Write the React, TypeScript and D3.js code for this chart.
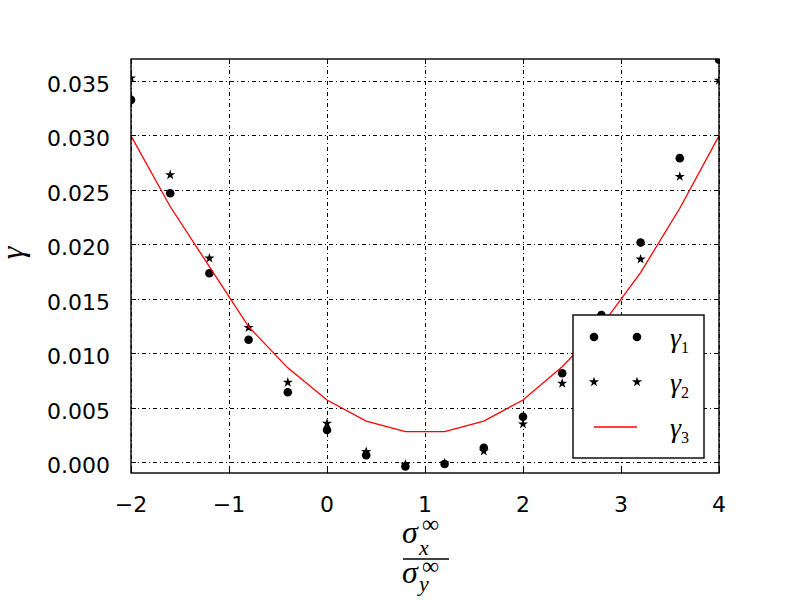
import * as React from 'react';
import * as d3 from 'd3';

const xValues = [-2, -1.6, -1.2, -0.8, -0.4, 0, 0.4, 0.8, 1.2, 1.6, 2, 2.4, 2.8, 3.2, 3.6, 4];
const gamma1 = [0.03325, 0.02468, 0.01733, 0.01123, 0.00641, 0.00294, 0.00064, -0.0004, -0.00018, 0.00131, 0.00416, 0.00815, 0.0135, 0.02015, 0.0279, 0.03693];
const gamma2 = [0.03525, 0.02636, 0.01871, 0.01234, 0.00732, 0.00356, 0.00095, -0.0002, -0.0001, 0.00101, 0.00349, 0.00723, 0.0124, 0.01862, 0.02621, 0.03503];
const gamma3 = [0.02995, 0.02346, 0.01794, 0.01243, 0.00865, 0.0057, 0.00377, 0.00279, 0.00279, 0.00377, 0.0057, 0.00875, 0.0125, 0.0174, 0.0233, 0.02995];
const xTicks = [-2, -1, 0, 1, 2, 3, 4];
const yTicks = [0, 0.005, 0.01, 0.015, 0.02, 0.025, 0.03, 0.035];

const SANS = 'DejaVu Sans, sans-serif';
const SERIF = 'Liberation Serif, serif';

export default function App() {
  const ref = React.useRef<SVGSVGElement>(null);

  React.useEffect(() => {
    const svg = d3.select(ref.current);
    svg.selectAll('*').remove();

    const left = 131, right = 719, top = 59, bottom = 473;
    const x = d3.scaleLinear().domain([-2, 4]).range([left, right]);
    const y = d3.scaleLinear().domain([-0.001, 0.037]).range([bottom, top]);
    const px = (v: number) => Math.round(v) + 0.5;

    svg.append('defs').append('clipPath').attr('id', 'plotclip')
      .append('rect')
      .attr('x', left).attr('y', top)
      .attr('width', right - left).attr('height', bottom - top);

    // grid
    const grid = svg.append('g')
      .attr('stroke', '#000')
      .attr('stroke-width', 1)
      .attr('shape-rendering', 'crispEdges')
      .attr('stroke-dasharray', '4,3,1,3');
    grid.selectAll('.gx').data(xTicks).enter().append('line')
      .attr('x1', d => px(x(d))).attr('x2', d => px(x(d)))
      .attr('y1', top).attr('y2', bottom);
    grid.selectAll('.gy').data(yTicks).enter().append('line')
      .attr('x1', left).attr('x2', right)
      .attr('y1', d => px(y(d))).attr('y2', d => px(y(d)));

    // ticks, inward on all four sides
    const ticks = svg.append('g').attr('stroke', '#000').attr('stroke-width', 1).attr('shape-rendering', 'crispEdges');
    xTicks.forEach(t => {
      ticks.append('line').attr('x1', px(x(t))).attr('x2', px(x(t))).attr('y1', bottom).attr('y2', bottom - 5);
      ticks.append('line').attr('x1', px(x(t))).attr('x2', px(x(t))).attr('y1', top).attr('y2', top + 5);
    });
    yTicks.forEach(t => {
      ticks.append('line').attr('x1', left).attr('x2', left + 5).attr('y1', px(y(t))).attr('y2', px(y(t)));
      ticks.append('line').attr('x1', right).attr('x2', right - 5).attr('y1', px(y(t))).attr('y2', px(y(t)));
    });

    const plot = svg.append('g').attr('clip-path', 'url(#plotclip)');
    const star = d3.symbol().type(d3.symbolStar).size(32);

    plot.selectAll('.c1').data(xValues).enter().append('circle')
      .attr('cx', d => x(d))
      .attr('cy', (d, i) => y(gamma1[i]))
      .attr('r', 4.3)
      .attr('fill', '#000');

    plot.selectAll('.s2').data(xValues).enter().append('path')
      .attr('d', star)
      .attr('transform', (d, i) => `translate(${x(d)},${y(gamma2[i])})`)
      .attr('fill', '#000');

    const line = d3.line<number>()
      .x(d => x(d))
      .y((d, i) => y(gamma3[i]));
    plot.append('path')
      .datum(xValues)
      .attr('d', line)
      .attr('fill', 'none')
      .attr('stroke', '#ff0000')
      .attr('stroke-width', 1.3);

    // frame
    svg.append('rect')
      .attr('x', left).attr('y', top)
      .attr('width', right - left).attr('height', bottom - top)
      .attr('fill', 'none').attr('stroke', '#000').attr('stroke-width', 1.4);

    // tick labels
    svg.append('g').selectAll('text').data(xTicks).enter().append('text')
      .attr('x', d => x(d)).attr('y', 512)
      .attr('text-anchor', 'middle')
      .attr('font-family', SANS).attr('font-size', 22)
      .text(d => d < 0 ? '\u2212' + Math.abs(d) : String(d));
    svg.append('g').selectAll('text').data(yTicks).enter().append('text')
      .attr('x', 110).attr('y', d => y(d) + 11)
      .attr('text-anchor', 'end')
      .attr('font-family', SANS).attr('font-size', 22)
      .text(d => d3.format('.3f')(d));

    // y label
    svg.append('text')
      .attr('transform', 'translate(23,253) rotate(-90)')
      .attr('text-anchor', 'middle')
      .attr('font-family', SERIF).attr('font-style', 'italic').attr('font-size', 32)
      .text('γ');

    // x label: sigma_x^inf / sigma_y^inf
    const xl = svg.append('g').attr('font-family', SERIF);
    const frac = (base: number, sub: string, supY: number, subY: number) => {
      xl.append('text').attr('x', 402).attr('y', base)
        .attr('font-style', 'italic').attr('font-size', 32).text('σ');
      xl.append('text').attr('x', 422).attr('y', supY)
        .attr('font-size', 24).text('∞');
      xl.append('text').attr('x', 419).attr('y', subY)
        .attr('font-style', 'italic').attr('font-size', 22).text(sub);
    };
    frac(543, 'x', 532, 555);
    frac(583, 'y', 574, 591);
    xl.append('line')
      .attr('x1', 403).attr('x2', 449).attr('y1', 559).attr('y2', 559)
      .attr('stroke', '#000').attr('stroke-width', 1.5);

    // legend
    const lg = svg.append('g');
    lg.append('rect')
      .attr('x', 573).attr('y', 315).attr('width', 131).attr('height', 143)
      .attr('fill', '#fff').attr('stroke', '#000').attr('stroke-width', 1.4);
    const rows = [337, 382, 427];
    [594, 637].forEach(mx => {
      lg.append('circle').attr('cx', mx).attr('cy', rows[0]).attr('r', 4.3).attr('fill', '#000');
      lg.append('path').attr('d', star).attr('transform', `translate(${mx},${rows[1]})`).attr('fill', '#000');
    });
    lg.append('line').attr('x1', 594).attr('x2', 637).attr('y1', rows[2]).attr('y2', rows[2])
      .attr('stroke', '#ff0000').attr('stroke-width', 1.3);
    ['1', '2', '3'].forEach((s, i) => {
      const t = lg.append('text').attr('x', 670).attr('y', rows[i] + 10)
        .attr('font-family', SERIF).attr('font-size', 28);
      t.append('tspan').attr('font-style', 'italic').text('γ');
      t.append('tspan').attr('font-size', 16).attr('dy', 6).text(s);
    });
  }, []);

  return (
    <svg ref={ref} width={800} height={600}
      style={{ position: 'absolute', left: 0, top: 0, background: '#fff' }} />
  );
}
